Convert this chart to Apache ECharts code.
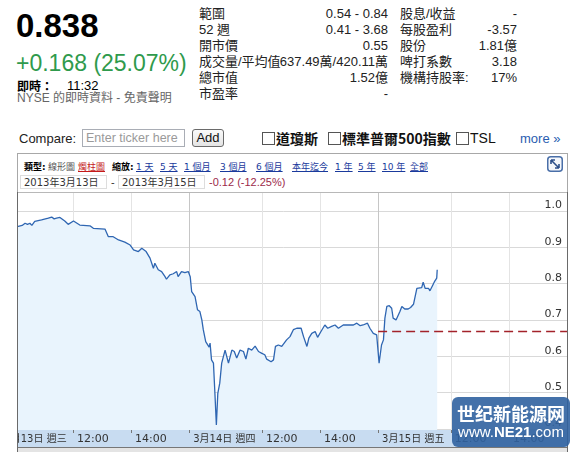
<!DOCTYPE html>
<html><head><meta charset="utf-8">
<script src="https://cdn.jsdelivr.net/npm/echarts@6/dist/echarts.min.js"></script>
<style>
html,body{margin:0;padding:0;background:#fff;}
body{width:576px;height:452px;position:relative;overflow:hidden;font-family:'Liberation Sans',Arial,'Noto Sans CJK TC',sans-serif;color:#222;}
.a{position:absolute;white-space:nowrap;}
.st{font-size:13px;line-height:16px;color:#222;}
.r{text-align:right;}
.hd{font-family:'DejaVu Sans','Noto Sans CJK TC',sans-serif;font-size:9px;line-height:10px;top:162px;}
.lk{color:#1a3a9c;text-decoration:underline;}
.cb{position:absolute;width:11px;height:11px;border:1px solid #555;background:#fff;top:132px;}
.cjkb{font-family:'Noto Sans CJK TC',sans-serif;font-weight:bold;font-size:14px;line-height:14px;top:131px;color:#111;}
.dbox{position:absolute;top:175px;height:14px;border:1px solid #ddd;font-family:'DejaVu Sans','Noto Sans CJK TC',sans-serif;font-size:10px;line-height:14px;padding:0 3px;color:#333;box-sizing:border-box;}
#chart{position:absolute;left:0;top:0;width:576px;height:452px;z-index:1;}
.z0{z-index:0;}.z2{z-index:2;}
</style></head><body>
<!-- header quote -->
<div class="a" style="left:16px;top:9px;font:bold 33px/33px 'Liberation Sans',Arial;color:#000;">0.838</div>
<div class="a" style="left:16px;top:52px;font:23px/23px 'Liberation Sans',Arial;color:#2f9a4c;">+0.168 (25.07%)</div>
<div class="a" style="left:17px;top:79px;font-size:12px;line-height:13px;color:#000;"><span style="font-weight:bold;font-family:'Noto Sans CJK TC';">即時：</span></div>
<div class="a" style="left:67px;top:79px;font-size:13px;line-height:13px;color:#000;">11:32</div>
<div class="a" style="left:17px;top:92px;font-size:12px;line-height:12px;color:#666;">NYSE 的即時資料 - 免責聲明</div>
<!-- stats -->
<div class="a st" style="left:199px;top:6px;">範圍</div><div class="a st r" style="right:188px;top:6px;">0.54 - 0.84</div>
<div class="a st" style="left:400px;top:6px;">股息/收益</div><div class="a st r" style="right:59px;top:6px;">-</div>
<div class="a st" style="left:199px;top:22px;">52 週</div><div class="a st r" style="right:188px;top:22px;">0.41 - 3.68</div>
<div class="a st" style="left:400px;top:22px;">每股盈利</div><div class="a st r" style="right:59px;top:22px;">-3.57</div>
<div class="a st" style="left:199px;top:38px;">開市價</div><div class="a st r" style="right:188px;top:38px;">0.55</div>
<div class="a st" style="left:400px;top:38px;">股份</div><div class="a st r" style="right:59px;top:38px;">1.81億</div>
<div class="a st" style="left:199px;top:54px;">成交量/平均值</div><div class="a st r" style="right:188px;top:54px;">637.49萬/420.11萬</div>
<div class="a st" style="left:400px;top:54px;">啤打系數</div><div class="a st r" style="right:59px;top:54px;">3.18</div>
<div class="a st" style="left:199px;top:70px;">總市值</div><div class="a st r" style="right:188px;top:70px;">1.52億</div>
<div class="a st" style="left:400px;top:70px;">機構持股率:</div><div class="a st r" style="right:59px;top:70px;">17%</div>
<div class="a st" style="left:199px;top:86px;">市盈率</div><div class="a st r" style="right:188px;top:86px;">-</div>
<!-- compare row -->
<div class="a" style="left:19px;top:132px;font-size:13px;line-height:13px;color:#222;">Compare:</div>
<div class="a" style="left:82px;top:129px;width:103px;height:18px;box-sizing:border-box;border:1px solid #a9adb5;font-size:12.5px;line-height:16px;color:#9a9a9a;padding-left:3px;">Enter ticker here</div>
<div class="a" style="left:192px;top:129px;width:32px;height:18px;box-sizing:border-box;border:1px solid #6a6a6a;border-radius:3px;background:linear-gradient(#fafafa,#e4e4e4);font-size:13px;line-height:16px;text-align:center;color:#111;">Add</div>
<div class="cb" style="left:262px;"></div><div class="a cjkb" style="left:276px;">道瓊斯</div>
<div class="cb" style="left:328px;"></div><div class="a cjkb" style="left:342px;">標準普爾500指數</div>
<div class="cb" style="left:456px;"></div><div class="a" style="left:470px;top:131px;font-size:14px;line-height:14px;color:#111;">TSL</div>
<div class="a" style="left:520px;top:132px;font-size:13px;line-height:13px;color:#2a5db0;">more »</div>
<!-- chart frame header -->
<div class="a z0" style="left:17px;top:153px;width:551px;height:320px;box-sizing:border-box;border:1px solid #a8a8a8;"></div>
<div class="a hd" style="left:24px;font-weight:bold;color:#000;">類型:</div>
<div class="a hd" style="left:48px;color:#555;">線形圖</div>
<div class="a hd" style="left:78px;color:#c41a1a;text-decoration:underline;">燭柱圖</div>
<div class="a hd" style="left:112px;font-weight:bold;color:#000;">縮放:</div>
<div class="a hd lk" style="left:136px;">1 天</div>
<div class="a hd lk" style="left:160px;">5 天</div>
<div class="a hd lk" style="left:184px;">1 個月</div>
<div class="a hd lk" style="left:220px;">3 個月</div>
<div class="a hd lk" style="left:256px;">6 個月</div>
<div class="a hd lk" style="left:292px;">本年迄今</div>
<div class="a hd lk" style="left:335px;">1 年</div>
<div class="a hd lk" style="left:358px;">5 年</div>
<div class="a hd lk" style="left:382px;">10 年</div>
<div class="a hd lk" style="left:410px;">全部</div>
<svg class="a" style="left:547px;top:156px;" width="16" height="16" viewBox="0 0 16 16">
<rect x="0.75" y="0.75" width="14.5" height="14.5" rx="3" fill="#f4f7fb" stroke="#4a6fa8" stroke-width="1.5"/>
<path d="M4 4 L12 12 M4 4 L4 8 M4 4 L8 4 M12 12 L12 8 M12 12 L8 12" stroke="#2c4f8a" stroke-width="1.6" fill="none"/>
</svg>
<div class="dbox" style="left:20px;width:87px;">2013年3月13日</div>
<div class="a" style="left:111px;top:176px;font-size:11px;line-height:12px;color:#333;">-</div>
<div class="dbox" style="left:118px;width:87px;">2013年3月15日</div>
<div class="a" style="left:209px;top:176px;font-size:11px;line-height:12px;color:#9c2a4a;">-0.12 (-12.25%)</div>
<!-- plot decorations -->
<div class="a z0" style="left:17px;top:430px;width:550px;height:17px;background:#c8dcf1;"></div>
<div class="a z0" style="left:17px;top:448px;width:550px;height:4px;background:#e4e4e4;"></div>
<div id="chart"></div>
<div class="a z2" style="left:0;top:150px;width:17px;height:302px;background:#fff;"></div>
<div class="a z2" style="left:17px;top:192px;width:551px;height:1px;background:#b8b8b8;"></div>
<div class="a z2" style="left:17px;top:447px;width:551px;height:1px;background:#777;"></div>
<div class="a z2" style="left:17px;top:192px;width:1px;height:260px;background:#6a6a6a;"></div>
<div class="a z2" style="left:567px;top:192px;width:1px;height:260px;background:#6a6a6a;"></div>
<!-- watermark -->
<div class="a z2" style="left:452px;top:397px;width:118px;height:50px;border-radius:6px;background:rgba(48,98,160,0.9);color:#fff;text-align:center;">
<div style="font-family:'Noto Sans CJK SC';font-weight:bold;font-size:18px;line-height:18px;margin-top:7px;">世纪新能源网</div>
<div style="font-family:'Liberation Sans',Arial;font-size:15px;line-height:16px;margin-top:2px;">www.<b>NE21</b>.com</div>
</div>
<script>
const dayLabels = ['3月13日 週三', '3月14日 週四', '3月15日 週五'];
const timeTickLabels = ['12:00', '14:00'];
const yTickValues = [0.4, 0.5, 0.6, 0.7, 0.8, 0.9, 1.0];
const prevClose = 0.67;

const d13Times = ['10:05','10:15','10:21','10:26','10:31','10:35','10:41','10:55','11:09','11:16','11:21','11:26','11:33','11:43','11:50','12:01','12:14','12:35','12:42','13:06','13:13','13:23','13:34','13:47','13:58','14:05','14:15','14:22','14:25','14:31','14:39','14:46','14:49','14:56','15:03','15:10','15:13','15:20','15:27','15:34','15:37','15:44','15:51','15:58'];
const d13Prices = [0.957,0.960,0.966,0.963,0.966,0.960,0.971,0.975,0.980,0.983,0.978,0.980,0.982,0.972,0.963,0.972,0.961,0.959,0.952,0.950,0.929,0.929,0.920,0.914,0.906,0.893,0.888,0.897,0.893,0.888,0.870,0.842,0.856,0.838,0.833,0.819,0.812,0.824,0.827,0.833,0.819,0.833,0.830,0.833];

const d14Times = ['09:32','09:35','09:42','09:47','09:52','09:56','09:59','10:04','10:08','10:11','10:13','10:16','10:20','10:23','10:26','10:29','10:33','10:37','10:44','10:51','10:58','11:03','11:08','11:15','11:22','11:27','11:32','11:39','11:46','11:53','12:00','12:06','12:10','12:19','12:24','12:28','12:34','12:41','12:46','12:51','12:58','13:05','13:12','13:21','13:26','13:33','13:37','13:43','13:50','13:55','14:02','14:10','14:16','14:24','14:31','14:38','14:48','14:58','15:09','15:16','15:23','15:29','15:38','15:43','15:50','15:54','15:57'];
const d14Prices = [0.819,0.778,0.764,0.728,0.723,0.700,0.673,0.640,0.636,0.625,0.636,0.590,0.581,0.498,0.411,0.498,0.526,0.581,0.617,0.581,0.617,0.613,0.595,0.617,0.613,0.592,0.622,0.617,0.628,0.613,0.608,0.604,0.592,0.585,0.590,0.627,0.631,0.627,0.636,0.645,0.654,0.673,0.677,0.677,0.654,0.627,0.650,0.663,0.668,0.652,0.668,0.686,0.677,0.682,0.686,0.677,0.686,0.686,0.686,0.691,0.684,0.686,0.691,0.677,0.663,0.668,0.659];

const d15Times = ['09:32','09:37','09:41','09:44','09:48','09:53','09:58','10:01','10:07','10:10','10:15','10:19','10:25','10:32','10:37','10:43','10:46','10:50','10:53','11:00','11:03','11:07','11:14','11:17','11:23','11:27','11:31','11:32'];
const d15Prices = [0.581,0.631,0.645,0.705,0.737,0.739,0.732,0.705,0.700,0.703,0.723,0.737,0.730,0.730,0.734,0.743,0.746,0.787,0.792,0.789,0.804,0.787,0.787,0.780,0.796,0.807,0.815,0.838];

const OPEN = 570, DAY = 390;
function toMin(s) { const p = s.split(':').map(Number); return p[0] * 60 + p[1] - OPEN; }
const days = [[d13Times, d13Prices], [d14Times, d14Prices], [d15Times, d15Prices]];
const seriesData = [];
days.forEach(function (dp, d) { dp[0].forEach(function (t, i) { seriesData.push([d * DAY + toMin(t), dp[1][i]]); }); });
const xTicks = [];
dayLabels.forEach(function (l, d) { xTicks.push(d * DAY); timeTickLabels.forEach(function (t) { xTicks.push(d * DAY + toMin(t)); }); });
const xEnd = dayLabels.length * DAY;

const chart = echarts.init(document.getElementById('chart'), null, { renderer: 'canvas' });
chart.setOption({
  animation: false,
  backgroundColor: 'transparent',
  grid: { left: 0.36, right: 9, top: 192, bottom: 22 },
  xAxis: {
    type: 'value', min: 0, max: xEnd,
    axisLine: { show: false },
    axisTick: { show: true, customValues: xTicks, length: 3, lineStyle: { color: '#777' } },
    splitLine: { show: true, lineStyle: { color: ['#c6c6c6', '#e4e4e4', '#e4e4e4'], width: 1 } },
    axisLabel: {
      customValues: xTicks, align: 'left', margin: 4, padding: [0, 0, 0, 4],
      fontFamily: 'DejaVu Sans', fontSize: 11, color: '#333',
      rich: { d: { fontFamily: "'DejaVu Sans','Noto Sans CJK TC'", fontSize: 10, color: '#333' } },
      formatter: function (v) {
        const d = Math.floor(v / DAY), r = v - d * DAY;
        if (r === 0) return '{d|' + dayLabels[d] + '}';
        const m = r + OPEN;
        return String(Math.floor(m / 60)).padStart(2, '0') + ':' + String(m % 60).padStart(2, '0');
      }
    }
  },
  yAxis: {
    type: 'value', position: 'right', min: 0.397, max: 1.052,
    axisLine: { show: false },
    axisTick: { show: false, customValues: yTickValues },
    splitLine: { show: true, lineStyle: { color: '#d9d9d9' } },
    axisLabel: {
      customValues: yTickValues, inside: true, margin: 5, verticalAlign: 'bottom',
      fontFamily: 'DejaVu Sans', fontSize: 11, color: '#333',
      formatter: function (v) { return v.toFixed(1); }
    }
  },
  series: [{
    type: 'line', data: seriesData, symbol: 'none', silent: true,
    lineStyle: { color: '#2f66b2', width: 1.3 },
    areaStyle: { color: '#e9f4fd', origin: 'start', opacity: 1 },
    markLine: {
      silent: true, symbol: 'none', label: { show: false },
      lineStyle: { color: '#a3222a', type: [9, 5], width: 1.3 },
      data: [[{ coord: [2 * DAY, prevClose] }, { coord: [xEnd, prevClose] }]]
    }
  }]
});
</script>
</body></html>
